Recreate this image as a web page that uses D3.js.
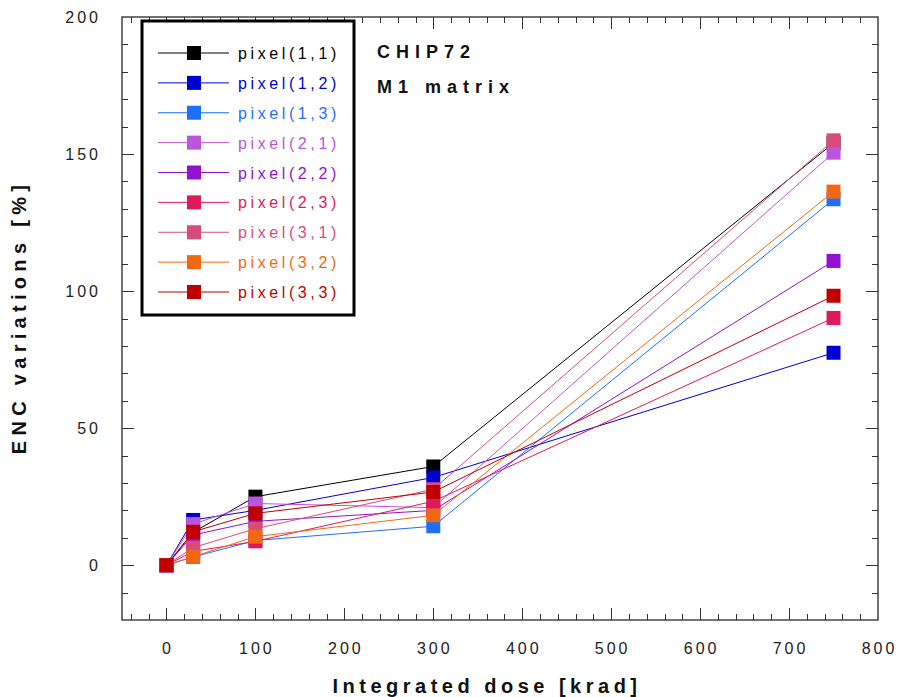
<!DOCTYPE html>
<html>
<head>
<meta charset="utf-8">
<script src="https://cdn.jsdelivr.net/npm/d3@7"></script>
<style>
  body { margin: 0; background: #fff; }
  text { font-family: Arial, "Liberation Sans", sans-serif; }
</style>
</head>
<body>
<svg id="chart" width="900" height="697"></svg>
<script>
// dose points [krad]
var doses = [0, 30, 100, 300, 750];

var seriesNames = ['pixel(1,1)', 'pixel(1,2)', 'pixel(1,3)', 'pixel(2,1)', 'pixel(2,2)',
  'pixel(2,3)', 'pixel(3,1)', 'pixel(3,2)', 'pixel(3,3)'];
var seriesColors = ['#000000', '#0000d0', '#1e6eff', '#bb55dd', '#9212d2',
  '#e01a5a', '#d84c7c', '#f26812', '#c00000'];

// ENC variation [%] for each pixel, one value per dose
var pix11 = [0, 12, 25, 36, 154];
var pix12 = [0, 16.5, 20, 32, 77.5];
var pix13 = [0, 3, 9, 14.2, 133.5];
var pix21 = [0, 15, 22.5, 21, 150.5];
var pix22 = [0, 11, 16, 20, 111];
var pix23 = [0, 5, 8.7, 23.3, 90.2];
var pix31 = [0, 6.4, 13.3, 27.7, 155];
var pix32 = [0, 3.1, 10.4, 18.2, 136.3];
var pix33 = [0, 12.2, 18.9, 26.7, 98.3];
var seriesValues = [pix11, pix12, pix13, pix21, pix22, pix23, pix31, pix32, pix33];

var xTicks = [0, 100, 200, 300, 400, 500, 600, 700, 800];
var yTicks = [0, 50, 100, 150, 200];

var svg = d3.select('#chart');

var pLeft = 122, pRight = 878, pTop = 17, pBottom = 620;

var xScale = d3.scaleLinear()
  .domain([-50, 800])
  .range([pLeft, pRight]);
var yScale = d3.scaleLinear()
  .domain([-20, 200])
  .range([pBottom, pTop]);

// frame
svg.append('rect')
  .attr('x', pLeft).attr('y', pTop)
  .attr('width', pRight - pLeft).attr('height', pBottom - pTop)
  .attr('fill', 'none')
  .attr('stroke', '#444')
  .attr('stroke-width', 1.5);

// inward ticks on all four sides
var xMinor = d3.range(-40, 800, 20);
var yMinor = d3.range(-10, 200, 10);

function isMajorX(v) { return v % 100 === 0; }
function isMajorY(v) { return v % 50 === 0; }

var tickG = svg.append('g').attr('stroke', '#333').attr('stroke-width', 1);
xMinor.forEach(function (v) {
  var len = isMajorX(v) ? 12 : 6;
  var x = Math.round(xScale(v)) + 0.5;
  tickG.append('line').attr('x1', x).attr('x2', x).attr('y1', pBottom).attr('y2', pBottom - len);
  tickG.append('line').attr('x1', x).attr('x2', x).attr('y1', pTop).attr('y2', pTop + len);
});
yMinor.forEach(function (v) {
  var len = isMajorY(v) ? 12 : 6;
  var y = Math.round(yScale(v)) + 0.5;
  tickG.append('line').attr('x1', pLeft).attr('x2', pLeft + len).attr('y1', y).attr('y2', y);
  tickG.append('line').attr('x1', pRight).attr('x2', pRight - len).attr('y1', y).attr('y2', y);
});

// tick labels
svg.selectAll('.xlab')
  .data(xTicks)
  .enter()
  .append('text')
  .attr('x', function (d) { return xScale(d) + 1.5; })
  .attr('y', 654)
  .attr('text-anchor', 'middle')
  .attr('font-size', '16px')
  .attr('letter-spacing', '3px')
  .attr('fill', '#222')
  .text(function (d) { return d; });

svg.selectAll('.ylab')
  .data(yTicks)
  .enter()
  .append('text')
  .attr('x', 101)
  .attr('y', function (d) { return yScale(d) + 6; })
  .attr('text-anchor', 'end')
  .attr('font-size', '16px')
  .attr('letter-spacing', '3px')
  .attr('fill', '#222')
  .text(function (d) { return d; });

// axis titles
svg.append('text')
  .attr('x', 487)
  .attr('y', 693)
  .attr('text-anchor', 'middle')
  .attr('font-size', '20px')
  .attr('font-weight', 'bold')
  .attr('letter-spacing', '4.5px')
  .attr('fill', '#111')
  .text('Integrated dose [krad]');

svg.append('text')
  .attr('transform', 'translate(26,' + 317 + ') rotate(-90)')
  .attr('text-anchor', 'middle')
  .attr('font-size', '20px')
  .attr('font-weight', 'bold')
  .attr('letter-spacing', '5.3px')
  .attr('fill', '#111')
  .text('ENC variations [%]');

// series
var line = d3.line()
  .x(function (d, i) { return xScale(doses[i]); })
  .y(function (d) { return yScale(d); });

var sq = 14;
seriesValues.forEach(function (vals, k) {
  var g = svg.append('g');
  g.append('path')
    .attr('d', line(vals))
    .attr('fill', 'none')
    .attr('stroke', seriesColors[k])
    .attr('stroke-width', 1);
  g.selectAll('rect')
    .data(vals)
    .enter()
    .append('rect')
    .attr('x', function (d, i) { return xScale(doses[i]) - sq / 2; })
    .attr('y', function (d) { return yScale(d) - sq / 2; })
    .attr('width', sq)
    .attr('height', sq)
    .attr('fill', seriesColors[k]);
});

// legend
var legend = svg.append('g');
legend.append('rect')
  .attr('x', 142).attr('y', 21)
  .attr('width', 212).attr('height', 294)
  .attr('fill', '#fff')
  .attr('stroke', '#000')
  .attr('stroke-width', 3);

var rowY = d3.scaleLinear().domain([0, 8]).range([53, 292]);
seriesNames.forEach(function (name, k) {
  var y = rowY(k);
  legend.append('line')
    .attr('x1', 158).attr('x2', 229)
    .attr('y1', y).attr('y2', y)
    .attr('stroke', seriesColors[k])
    .attr('stroke-width', 1);
  legend.append('rect')
    .attr('x', 187).attr('y', y - 7)
    .attr('width', sq).attr('height', sq)
    .attr('fill', seriesColors[k]);
  legend.append('text')
    .attr('x', 238)
    .attr('y', y + 6)
    .attr('font-size', '16px')
    .attr('letter-spacing', '3.6px')
    .attr('fill', seriesColors[k])
    .text(name);
});

// annotation
svg.append('text')
  .attr('x', 377).attr('y', 58)
  .attr('font-size', '18px')
  .attr('font-weight', 'bold')
  .attr('letter-spacing', '6px')
  .attr('fill', '#111')
  .text('CHIP72');
svg.append('text')
  .attr('x', 377).attr('y', 93)
  .attr('font-size', '18px')
  .attr('font-weight', 'bold')
  .attr('letter-spacing', '6px')
  .attr('fill', '#111')
  .text('M1 matrix');
</script>
</body>
</html>
